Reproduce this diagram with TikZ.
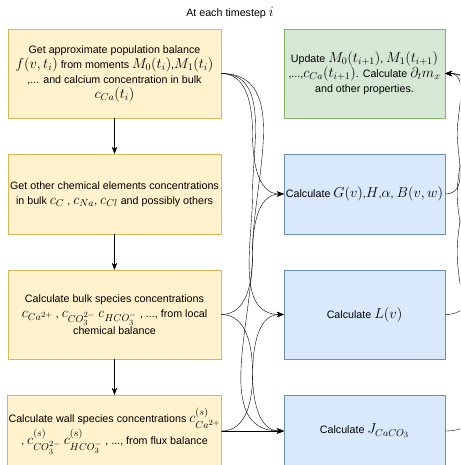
\documentclass[tikz,border=0pt]{standalone}
\usepackage[no-math]{fontspec}
\setmainfont{Liberation Sans}
\usepackage{amssymb,amsmath}
\usetikzlibrary{arrows.meta, calc}
\DeclareMathSizes{10.7}{14.2}{10}{7.8}
\definecolor{ylwfill}{HTML}{FFF2CC}
\definecolor{ylwline}{HTML}{D6B656}
\definecolor{grnfill}{HTML}{D5E8D4}
\definecolor{grnline}{HTML}{82B366}
\definecolor{blufill}{HTML}{DAE8FC}
\definecolor{bluline}{HTML}{6C8EBF}

\begin{document}
\begin{tikzpicture}[x=1pt, y=-1pt, >={Stealth[length=7pt,width=5.5pt]}, line cap=round, line join=round,
	font=\fontsize{10.7}{15}\selectfont,
	stepbox/.style={draw=ylwline, fill=ylwfill, minimum width=213pt, minimum height=89pt,
		align=center, inner sep=1pt},
	updbox/.style={draw=grnline, fill=grnfill, minimum width=161pt, minimum height=89pt,
		align=center, inner sep=1pt},
	calcbox/.style={draw=bluline, fill=blufill, minimum width=161pt, minimum height=80pt,
		align=center, inner sep=1pt}]

\clip (0,0) rectangle (460,465);

\node (title) at (230,13) {At each timestep $i$};

%========================
% Left: steps in the bulk / at the wall
%========================
\node[stepbox] (bal) at (114.5,73.5) {Get approximate population balance\\
	$f(v,t_i)$ from moments $M_0(t_i)$,$M_1(t_i)$\\
	,... and calcium concentration in bulk\\
	$c_{Ca}(t_i)$};
\node[stepbox, minimum height=80pt] (elem) at (114.5,194) {Get other chemical elements concentrations\\
	in bulk $c_C$ , $c_{Na}$, $c_{Cl}$ and possibly others};
\node[stepbox] (bulk) at (114.5,314.5) {Calculate bulk species concentrations\\
	$c_{Ca^{2+}}$ , $c_{CO_3^{2-}}$ $c_{HCO_3^-}$ , ..., from local\\
	chemical balance};
\node[stepbox, minimum height=72pt] (wall) at (114.5,431) {Calculate wall species concentrations $c^{(s)}_{Ca^{2+}}$\\
	, $c^{(s)}_{CO_3^{2-}}$ $c^{(s)}_{HCO_3^-}$ , ..., from flux balance};

% steps one after another
\draw[->] (bal) -- (elem);
\draw[->] (elem) -- (bulk);
\draw[->] (bulk) -- (wall);

%========================
% Right: rates and update
%========================
\node[updbox] (upd) at (364.5,73.5) {Update $M_0(t_{i+1})$, $M_1(t_{i+1})$\\
	,...,$c_{Ca}(t_{i+1})$. Calculate $\partial_t m_x$\\
	and other properties.};
\node[calcbox] (calcG) at (364.5,194) {Calculate $G(v)$,$H$,$\alpha$, $B(v,w)$};
\node[calcbox, minimum height=89pt] (calcL) at (364.5,314.5) {Calculate $L(v)$};
\node[calcbox, minimum height=72pt] (calcJ) at (364.5,431) {Calculate $J_{CaCO_3}$};

% inputs going down
\foreach \a/\b in {bal/calcG, bal/calcL, bal/calcJ, bulk/calcJ}
	\draw[->] (\a.east) to[out=0,in=90] ($(\a.east)!.5!(\b.west)$) to[out=-90,in=180] (\b.west);
% inputs going up
\foreach \a/\b in {bulk/calcG, wall/calcL}
	\draw[->] (\a.east) to[out=0,in=-90] ($(\a.east)!.5!(\b.west)$) to[out=90,in=180] (\b.west);
\draw[->] (wall.east) -- (calcJ.west);

% rates back to the update
\foreach \a in {calcG, calcL, calcJ}
	\draw[->] (\a.east) to[out=0,in=-90] ($(\a.east)!.5!(upd.east)+(12,0)$) to[out=90,in=0] (upd.east);

\end{tikzpicture}
\end{document}
